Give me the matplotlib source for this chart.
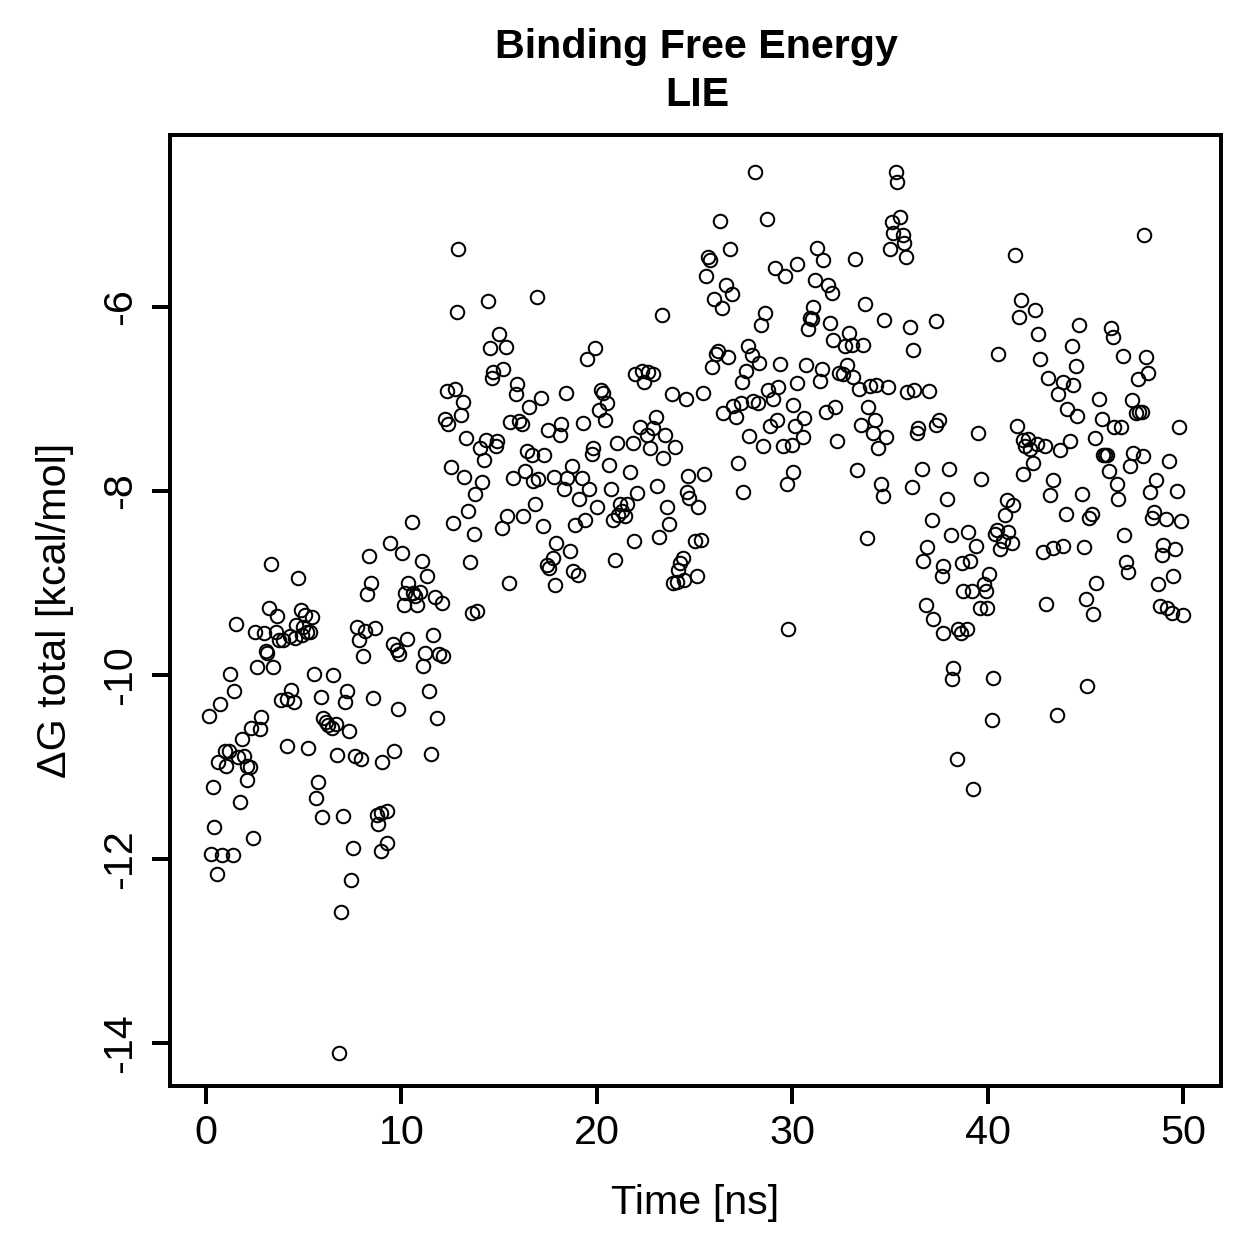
import matplotlib
matplotlib.use("Agg")
import matplotlib.pyplot as plt

# LIE binding free energy trajectory
time_ns = [
    0.15, 0.25, 0.35, 0.40, 0.55, 0.60, 0.70, 0.80, 0.97, 1.02,
    1.18, 1.23, 1.38, 1.43, 1.53, 1.64, 1.74, 1.84, 1.94, 2.10,
    2.10, 2.25, 2.30, 2.40, 2.50, 2.60, 2.76, 2.81, 2.97, 3.07,
    3.12, 3.22, 3.33, 3.43, 3.58, 3.63, 3.74, 3.84, 3.94, 4.15,
    4.15, 4.30, 4.35, 4.50, 4.55, 4.60, 4.70, 4.86, 4.91, 4.96,
    5.07, 5.17, 5.22, 5.32, 5.42, 5.53, 5.63, 5.73, 5.89, 5.94,
    5.99, 6.14, 6.24, 6.45, 6.50, 6.65, 6.70, 6.80, 6.90, 7.00,
    7.10, 7.20, 7.30, 7.42, 7.52, 7.63, 7.73, 7.83, 7.93, 8.03,
    8.14, 8.24, 8.34, 8.44, 8.55, 8.65, 8.75, 8.80, 8.96, 8.96,
    9.00, 9.26, 9.26, 9.42, 9.57, 9.62, 9.77, 9.83, 9.88, 10.03,
    10.13, 10.18, 10.29, 10.34, 10.54, 10.59, 10.70, 10.80, 10.95, 11.05,
    11.10, 11.21, 11.31, 11.41, 11.51, 11.62, 11.72, 11.82, 11.92, 12.08,
    12.13, 12.23, 12.33, 12.38, 12.54, 12.64, 12.74, 12.85, 12.90, 13.05,
    13.15, 13.20, 13.31, 13.41, 13.51, 13.61, 13.72, 13.77, 13.87, 14.02,
    14.12, 14.23, 14.33, 14.43, 14.53, 14.64, 14.69, 14.84, 14.89, 15.00,
    15.15, 15.20, 15.35, 15.40, 15.51, 15.56, 15.71, 15.86, 15.92, 16.02,
    16.17, 16.22, 16.33, 16.43, 16.53, 16.68, 16.73, 16.84, 16.94, 16.99,
    17.14, 17.25, 17.30, 17.45, 17.50, 17.55, 17.76, 17.81, 17.86, 17.91,
    18.10, 18.18, 18.32, 18.42, 18.47, 18.63, 18.73, 18.78, 18.88, 19.04,
    19.09, 19.24, 19.29, 19.40, 19.50, 19.60, 19.75, 19.80, 19.91, 20.01,
    20.11, 20.21, 20.32, 20.42, 20.52, 20.62, 20.73, 20.83, 20.93, 21.03,
    21.08, 21.19, 21.29, 21.44, 21.55, 21.70, 21.85, 21.90, 21.95, 22.06,
    22.21, 22.31, 22.42, 22.57, 22.62, 22.72, 22.88, 22.88, 23.03, 23.08,
    23.18, 23.34, 23.39, 23.49, 23.59, 23.70, 23.85, 23.90, 24.00, 24.10,
    24.16, 24.26, 24.41, 24.46, 24.56, 24.62, 24.67, 24.72, 25.03, 25.13,
    25.18, 25.33, 25.43, 25.48, 25.59, 25.69, 25.79, 25.90, 26.00, 26.10,
    26.20, 26.31, 26.41, 26.46, 26.61, 26.72, 26.82, 26.92, 26.97, 27.12,
    27.23, 27.38, 27.43, 27.48, 27.64, 27.74, 27.79, 27.94, 27.99, 28.10,
    28.25, 28.30, 28.40, 28.50, 28.61, 28.71, 28.76, 28.86, 29.02, 29.12,
    29.22, 29.27, 29.38, 29.53, 29.63, 29.73, 29.78, 29.99, 30.04, 30.04,
    30.14, 30.25, 30.25, 30.55, 30.60, 30.70, 30.81, 30.91, 31.01, 31.06,
    31.17, 31.27, 31.42, 31.53, 31.58, 31.73, 31.83, 31.93, 32.04, 32.09,
    32.19, 32.29, 32.40, 32.60, 32.70, 32.80, 32.91, 33.06, 33.11, 33.21,
    33.32, 33.42, 33.52, 33.62, 33.73, 33.83, 33.88, 33.98, 34.14, 34.24,
    34.29, 34.39, 34.54, 34.65, 34.70, 34.80, 34.90, 35.00, 35.10, 35.16,
    35.31, 35.36, 35.52, 35.67, 35.72, 35.82, 35.87, 36.03, 36.13, 36.18,
    36.23, 36.39, 36.44, 36.64, 36.70, 36.85, 36.90, 37.00, 37.15, 37.20,
    37.34, 37.36, 37.50, 37.67, 37.72, 37.72, 37.92, 38.02, 38.13, 38.18,
    38.23, 38.43, 38.49, 38.64, 38.69, 38.74, 38.95, 39.00, 39.10, 39.20,
    39.25, 39.40, 39.50, 39.61, 39.66, 39.81, 39.92, 39.97, 40.07, 40.22,
    40.28, 40.38, 40.48, 40.53, 40.63, 40.79, 40.90, 41.00, 41.04, 41.25,
    41.30, 41.40, 41.50, 41.60, 41.70, 41.81, 41.81, 41.91, 42.07, 42.17,
    42.32, 42.43, 42.53, 42.58, 42.68, 42.84, 42.94, 42.99, 43.09, 43.19,
    43.35, 43.35, 43.55, 43.60, 43.71, 43.86, 43.86, 44.01, 44.06, 44.22,
    44.32, 44.37, 44.52, 44.58, 44.68, 44.83, 44.93, 45.04, 45.09, 45.19,
    45.34, 45.40, 45.50, 45.55, 45.70, 45.85, 45.90, 46.00, 46.10, 46.21,
    46.32, 46.42, 46.47, 46.62, 46.67, 46.83, 46.93, 46.98, 47.08, 47.19,
    47.29, 47.39, 47.44, 47.60, 47.70, 47.75, 47.90, 47.95, 48.00, 48.11,
    48.21, 48.31, 48.41, 48.52, 48.62, 48.72, 48.82, 48.92, 48.98, 49.13,
    49.18, 49.28, 49.44, 49.49, 49.59, 49.69, 49.80, 49.90, 50.00,
]

dg_total = [
    -10.45, -11.95, -11.22, -11.65, -12.17, -10.95, -10.32, -11.96, -10.83, -10.99,
    -10.83, -9.99, -11.96, -10.17, -9.45, -10.89, -11.38, -10.70, -10.88, -10.99,
    -11.14, -11.00, -10.58, -11.77, -9.53, -9.91, -10.59, -10.46, -9.54, -9.74,
    -9.76, -9.27, -8.79, -9.91, -9.53, -9.36, -9.62, -10.27, -9.62, -10.26,
    -10.77, -9.58, -10.16, -10.29, -9.60, -9.46, -8.95, -9.29, -9.57, -9.48,
    -9.35, -9.53, -10.80, -9.53, -9.37, -9.99, -11.34, -11.16, -10.24, -11.55,
    -10.47, -10.51, -10.55, -10.58, -10.00, -10.53, -10.87, -14.11, -12.58, -11.53,
    -10.30, -10.17, -10.61, -12.23, -11.88, -10.88, -9.48, -9.62, -10.92, -9.80,
    -9.52, -9.12, -8.71, -9.00, -10.25, -9.49, -11.52, -11.62, -11.50, -11.92,
    -10.95, -11.48, -11.83, -8.57, -9.66, -10.83, -9.73, -10.37, -9.77, -8.67,
    -9.24, -9.11, -9.61, -9.00, -8.34, -9.11, -9.14, -9.24, -9.10, -8.76,
    -9.90, -9.76, -8.93, -10.18, -10.86, -9.57, -9.15, -10.47, -9.77, -9.22,
    -9.80, -7.22, -6.91, -7.27, -7.74, -8.35, -6.89, -6.05, -5.37, -7.17,
    -7.03, -7.85, -7.42, -8.22, -8.77, -9.33, -8.47, -8.03, -9.30, -7.53,
    -7.90, -7.66, -7.45, -5.93, -6.45, -6.77, -6.71, -7.51, -7.46, -6.29,
    -8.40, -6.67, -6.43, -8.27, -9.00, -7.25, -7.86, -6.95, -6.84, -7.24,
    -7.27, -8.27, -7.78, -7.57, -7.09, -7.61, -7.89, -8.14, -5.89, -7.87,
    -6.99, -8.38, -7.61, -8.80, -7.34, -8.84, -8.73, -7.85, -9.02, -8.57,
    -7.39, -7.27, -7.98, -6.93, -7.86, -8.65, -7.73, -8.87, -8.37, -8.91,
    -8.09, -7.86, -7.26, -8.32, -6.57, -7.98, -7.60, -7.53, -6.45, -8.18,
    -7.12, -6.90, -6.93, -7.23, -7.04, -7.72, -7.98, -8.32, -8.75, -7.48,
    -8.26, -8.14, -8.22, -8.27, -8.14, -7.79, -7.48, -8.54, -6.73, -8.02,
    -7.30, -6.70, -6.82, -7.39, -6.71, -7.53, -6.73, -7.32, -7.20, -7.95,
    -8.50, -6.09, -7.64, -7.39, -8.17, -8.36, -6.95, -9.00, -7.52, -8.99,
    -8.86, -8.78, -8.73, -8.97, -7.00, -8.01, -7.84, -8.08, -8.54, -8.93,
    -8.17, -8.53, -6.93, -7.82, -5.66, -5.46, -5.49, -6.65, -5.91, -6.51,
    -6.48, -5.07, -6.01, -7.15, -5.76, -6.54, -5.37, -5.86, -7.08, -7.20,
    -7.70, -7.04, -6.82, -8.01, -6.70, -6.42, -7.40, -6.52, -7.02, -4.53,
    -7.04, -6.61, -6.20, -7.51, -6.07, -5.04, -6.90, -7.29, -7.00, -5.58,
    -7.23, -6.87, -6.62, -7.51, -5.66, -7.92, -9.50, -7.50, -7.07, -7.79,
    -7.29, -5.53, -6.83, -7.41, -7.21, -6.63, -6.24, -6.12, -6.13, -6.00,
    -5.71, -5.36, -6.80, -6.67, -5.49, -7.14, -5.76, -6.17, -5.85, -6.36,
    -7.09, -7.46, -6.72, -6.73, -6.42, -6.63, -6.28, -6.41, -6.76, -5.48,
    -7.77, -6.89, -7.28, -6.41, -5.97, -8.51, -7.09, -6.86, -7.37, -7.23,
    -6.85, -7.53, -7.92, -8.05, -6.14, -7.41, -6.87, -5.37, -5.08, -5.20,
    -4.53, -4.64, -5.02, -5.22, -5.30, -5.46, -6.92, -6.22, -7.96, -6.47,
    -6.90, -7.37, -7.32, -7.76, -8.76, -9.24, -8.61, -6.91, -8.32, -9.39,
    -6.15, -7.28, -7.23, -8.93, -8.82, -9.55, -8.09, -7.76, -8.48, -10.05,
    -9.92, -10.92, -9.50, -9.54, -8.78, -9.09, -9.50, -8.45, -8.76, -9.09,
    -11.24, -8.60, -7.37, -9.27, -7.87, -9.01, -9.09, -9.27, -8.90, -10.49,
    -10.03, -8.47, -8.42, -6.51, -8.63, -8.54, -8.26, -8.10, -8.45, -8.57,
    -8.15, -5.43, -7.29, -6.11, -5.92, -7.45, -7.82, -7.51, -7.43, -7.54,
    -7.70, -6.03, -7.49, -6.29, -6.57, -8.66, -7.51, -9.23, -6.77, -8.04,
    -7.88, -8.62, -10.44, -6.95, -7.55, -6.82, -8.60, -8.25, -7.11, -7.46,
    -6.42, -6.85, -6.64, -7.19, -6.20, -8.03, -8.61, -9.17, -10.12, -8.29,
    -8.25, -9.34, -7.42, -9.00, -7.00, -7.22, -7.61, -7.61, -7.61, -7.78,
    -6.23, -6.33, -7.30, -7.92, -8.09, -7.30, -6.53, -8.48, -8.77, -8.88,
    -7.73, -7.01, -7.59, -7.15, -6.78, -7.14, -7.14, -7.62, -5.22, -6.54,
    -6.72, -8.01, -8.29, -8.23, -7.88, -9.01, -9.25, -8.70, -8.59, -8.30,
    -9.27, -7.67, -9.33, -8.92, -8.63, -8.00, -7.30, -8.33, -9.35,
]

x_ticks = [0, 10, 20, 30, 40, 50]
y_ticks = [-14, -12, -10, -8, -6]

plt.rcParams["font.family"] = ["Liberation Sans", "DejaVu Sans"]
plt.rcParams["font.size"] = 16.5

W = 1259
fig = plt.figure(figsize=(W / 180, W / 180), dpi=180)
ax = fig.add_axes([170 / W, 1 - 1086 / W, 1051 / W, 951 / W])

# open circles, like R's pch = 1
ax.plot(
    time_ns, dg_total,
    linestyle="none",
    marker="o",
    markersize=5.4,
    markerfacecolor="none",
    markeredgecolor="black",
    markeredgewidth=0.8,
)

ax.set_xlim(-1.85, 51.95)
ax.set_ylim(-14.47, -4.13)
ax.set_xticks(x_ticks)
ax.set_yticks(y_ticks)
ax.set_xticklabels([str(t) for t in x_ticks])
ax.set_yticklabels([str(t) for t in y_ticks], rotation=90, va="center")

for s in ax.spines.values():
    s.set_linewidth(1.6)
ax.tick_params(axis="both", direction="out", length=7.2, width=1.6, labelsize=16.5)
ax.tick_params(axis="x", pad=4)
ax.tick_params(axis="y", pad=5)

ax.set_xlabel("Time [ns]", fontsize=16.5, va="center")
ax.set_ylabel("ΔG total [kcal/mol]", fontsize=16.5, va="center")
ax.xaxis.set_label_coords(0.5, (1086 - 1203) / 951)
ax.yaxis.set_label_coords((55 - 170) / 1051, 0.5)

cx = 697 / W
fig.text(cx, 1 - 47 / W, "Binding Free Energy", ha="center", va="center",
         fontsize=16.5, fontweight="bold")
fig.text(cx, 1 - 95 / W, "LIE", ha="center", va="center",
         fontsize=16.5, fontweight="bold")

fig.savefig("out.png", dpi=180)
